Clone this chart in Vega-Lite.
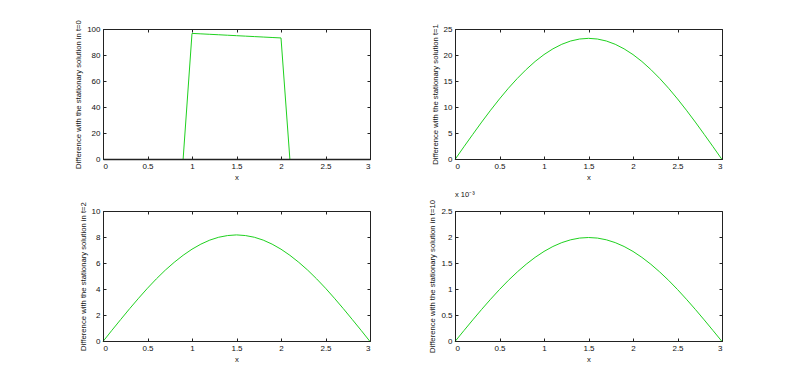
{
  "$schema": "https://vega.github.io/schema/vega-lite/v6.json",
  "background": "white",
  "padding": {"left": 74, "top": 19, "right": 10, "bottom": 5},
  "config": {
    "view": {"stroke": "#222", "strokeWidth": 1},
    "font": "Liberation Sans",
    "axis": {
      "grid": false,
      "zindex": 1,
      "domainColor": "#222",
      "tickColor": "#222",
      "tickSize": -3,
      "labelPadding": 6,
      "labelFont": "Liberation Sans",
      "labelFontSize": 8,
      "labelColor": "#111",
      "titleFont": "Liberation Sans",
      "titleFontSize": 7.7,
      "titleFontWeight": "normal",
      "titleColor": "#111"
    },
    "line": {"color": "#1fd11f", "strokeWidth": 1}
  },
  "datasets": {
    "d0": [
      {"x": 0, "y": 0}, {"x": 0.1, "y": 0}, {"x": 0.2, "y": 0}, {"x": 0.3, "y": 0}, {"x": 0.4, "y": 0},
      {"x": 0.5, "y": 0}, {"x": 0.6, "y": 0}, {"x": 0.7, "y": 0}, {"x": 0.8, "y": 0}, {"x": 0.9, "y": 0},
      {"x": 1.0, "y": 97.0}, {"x": 1.1, "y": 96.65}, {"x": 1.2, "y": 96.3}, {"x": 1.3, "y": 95.95}, {"x": 1.4, "y": 95.6},
      {"x": 1.5, "y": 95.25}, {"x": 1.6, "y": 94.9}, {"x": 1.7, "y": 94.55}, {"x": 1.8, "y": 94.2}, {"x": 1.9, "y": 93.85},
      {"x": 2.0, "y": 93.5}, {"x": 2.1, "y": 0}, {"x": 2.2, "y": 0}, {"x": 2.3, "y": 0}, {"x": 2.4, "y": 0},
      {"x": 2.5, "y": 0}, {"x": 2.6, "y": 0}, {"x": 2.7, "y": 0}, {"x": 2.8, "y": 0}, {"x": 2.9, "y": 0}, {"x": 3.0, "y": 0}
    ],
    "d1": [
      {"x": 0, "y": 0}, {"x": 0.1, "y": 2.44}, {"x": 0.2, "y": 4.84}, {"x": 0.3, "y": 7.2}, {"x": 0.4, "y": 9.48},
      {"x": 0.5, "y": 11.65}, {"x": 0.6, "y": 13.7}, {"x": 0.7, "y": 15.59}, {"x": 0.8, "y": 17.31}, {"x": 0.9, "y": 18.85},
      {"x": 1.0, "y": 20.18}, {"x": 1.1, "y": 21.28}, {"x": 1.2, "y": 22.16}, {"x": 1.3, "y": 22.79}, {"x": 1.4, "y": 23.17},
      {"x": 1.5, "y": 23.3}, {"x": 1.6, "y": 23.17}, {"x": 1.7, "y": 22.79}, {"x": 1.8, "y": 22.16}, {"x": 1.9, "y": 21.28},
      {"x": 2.0, "y": 20.18}, {"x": 2.1, "y": 18.85}, {"x": 2.2, "y": 17.31}, {"x": 2.3, "y": 15.59}, {"x": 2.4, "y": 13.7},
      {"x": 2.5, "y": 11.65}, {"x": 2.6, "y": 9.48}, {"x": 2.7, "y": 7.2}, {"x": 2.8, "y": 4.84}, {"x": 2.9, "y": 2.44}, {"x": 3.0, "y": 0}
    ],
    "d2": [
      {"x": 0, "y": 0}, {"x": 0.1, "y": 0.86}, {"x": 0.2, "y": 1.7}, {"x": 0.3, "y": 2.53}, {"x": 0.4, "y": 3.33},
      {"x": 0.5, "y": 4.1}, {"x": 0.6, "y": 4.82}, {"x": 0.7, "y": 5.49}, {"x": 0.8, "y": 6.09}, {"x": 0.9, "y": 6.63},
      {"x": 1.0, "y": 7.1}, {"x": 1.1, "y": 7.49}, {"x": 1.2, "y": 7.8}, {"x": 1.3, "y": 8.02}, {"x": 1.4, "y": 8.15},
      {"x": 1.5, "y": 8.2}, {"x": 1.6, "y": 8.15}, {"x": 1.7, "y": 8.02}, {"x": 1.8, "y": 7.8}, {"x": 1.9, "y": 7.49},
      {"x": 2.0, "y": 7.1}, {"x": 2.1, "y": 6.63}, {"x": 2.2, "y": 6.09}, {"x": 2.3, "y": 5.49}, {"x": 2.4, "y": 4.82},
      {"x": 2.5, "y": 4.1}, {"x": 2.6, "y": 3.33}, {"x": 2.7, "y": 2.53}, {"x": 2.8, "y": 1.7}, {"x": 2.9, "y": 0.86}, {"x": 3.0, "y": 0}
    ],
    "d10": [
      {"x": 0, "y": 0}, {"x": 0.1, "y": 0.000209}, {"x": 0.2, "y": 0.000416}, {"x": 0.3, "y": 0.000618}, {"x": 0.4, "y": 0.000813},
      {"x": 0.5, "y": 0.001}, {"x": 0.6, "y": 0.001176}, {"x": 0.7, "y": 0.001338}, {"x": 0.8, "y": 0.001486}, {"x": 0.9, "y": 0.001618},
      {"x": 1.0, "y": 0.001732}, {"x": 1.1, "y": 0.001827}, {"x": 1.2, "y": 0.001902}, {"x": 1.3, "y": 0.001956}, {"x": 1.4, "y": 0.001989},
      {"x": 1.5, "y": 0.002}, {"x": 1.6, "y": 0.001989}, {"x": 1.7, "y": 0.001956}, {"x": 1.8, "y": 0.001902}, {"x": 1.9, "y": 0.001827},
      {"x": 2.0, "y": 0.001732}, {"x": 2.1, "y": 0.001618}, {"x": 2.2, "y": 0.001486}, {"x": 2.3, "y": 0.001338}, {"x": 2.4, "y": 0.001176},
      {"x": 2.5, "y": 0.001}, {"x": 2.6, "y": 0.000813}, {"x": 2.7, "y": 0.000618}, {"x": 2.8, "y": 0.000416}, {"x": 2.9, "y": 0.000209}, {"x": 3.0, "y": 0}
    ]
  },
  "columns": 2,
  "spacing": {"row": 52, "column": 85},
  "bounds": "flush",
  "concat": [
    {
      "width": 267, "height": 130,
      "data": {"name": "d0"},
      "layer": [
        {
          "mark": {"type": "line", "yOffset": 0.5},
          "encoding": {
            "x": {"field": "x", "type": "quantitative", "scale": {"domain": [0, 3], "nice": false}, "axis": {"orient": "bottom", "zindex": 2, "domainWidth": 1.4, "values": [0, 0.5, 1, 1.5, 2, 2.5, 3], "format": "~r", "title": "x", "titlePadding": 3}},
            "y": {"field": "y", "type": "quantitative", "scale": {"domain": [0, 100], "nice": false}, "axis": {"orient": "left", "zindex": 2, "values": [0, 20, 40, 60, 80, 100], "format": "~r", "title": "Difference with the stationary solution in t=0", "titlePadding": 4}}
          }
        },
        {
          "mark": {"type": "line", "strokeOpacity": 0},
          "encoding": {
            "x": {"field": "x", "type": "quantitative", "axis": {"orient": "top", "values": [0, 0.5, 1, 1.5, 2, 2.5, 3], "labels": false, "title": null, "domain": false}},
            "y": {"field": "y", "type": "quantitative", "axis": {"orient": "right", "values": [0, 20, 40, 60, 80, 100], "labels": false, "title": null, "domain": false}}
          }
        }
      ],
      "resolve": {"axis": {"x": "independent", "y": "independent"}}
    },
    {
      "width": 267, "height": 130,
      "data": {"name": "d1"},
      "layer": [
        {
          "mark": {"type": "line", "yOffset": 0.5},
          "encoding": {
            "x": {"field": "x", "type": "quantitative", "scale": {"domain": [0, 3], "nice": false}, "axis": {"orient": "bottom", "zindex": 2, "values": [0, 0.5, 1, 1.5, 2, 2.5, 3], "format": "~r", "title": "x", "titlePadding": 3}},
            "y": {"field": "y", "type": "quantitative", "scale": {"domain": [0, 25], "nice": false}, "axis": {"orient": "left", "zindex": 2, "values": [0, 5, 10, 15, 20, 25], "format": "~r", "title": "Difference with the stationary solution t=1", "titlePadding": 4}}
          }
        },
        {
          "mark": {"type": "line", "strokeOpacity": 0},
          "encoding": {
            "x": {"field": "x", "type": "quantitative", "axis": {"orient": "top", "values": [0, 0.5, 1, 1.5, 2, 2.5, 3], "labels": false, "title": null, "domain": false}},
            "y": {"field": "y", "type": "quantitative", "axis": {"orient": "right", "values": [0, 5, 10, 15, 20, 25], "labels": false, "title": null, "domain": false}}
          }
        }
      ],
      "resolve": {"axis": {"x": "independent", "y": "independent"}}
    },
    {
      "width": 267, "height": 130,
      "data": {"name": "d2"},
      "layer": [
        {
          "mark": {"type": "line", "yOffset": 0.5},
          "encoding": {
            "x": {"field": "x", "type": "quantitative", "scale": {"domain": [0, 3], "nice": false}, "axis": {"orient": "bottom", "zindex": 2, "values": [0, 0.5, 1, 1.5, 2, 2.5, 3], "format": "~r", "title": "x", "titlePadding": 3}},
            "y": {"field": "y", "type": "quantitative", "scale": {"domain": [0, 10], "nice": false}, "axis": {"orient": "left", "zindex": 2, "values": [0, 2, 4, 6, 8, 10], "format": "~r", "title": "Difference with the stationary solution in t=2", "titlePadding": 4}}
          }
        },
        {
          "mark": {"type": "line", "strokeOpacity": 0},
          "encoding": {
            "x": {"field": "x", "type": "quantitative", "axis": {"orient": "top", "values": [0, 0.5, 1, 1.5, 2, 2.5, 3], "labels": false, "title": null, "domain": false}},
            "y": {"field": "y", "type": "quantitative", "axis": {"orient": "right", "values": [0, 2, 4, 6, 8, 10], "labels": false, "title": null, "domain": false}}
          }
        }
      ],
      "resolve": {"axis": {"x": "independent", "y": "independent"}}
    },
    {
      "width": 267, "height": 130,
      "data": {"name": "d10"},
      "title": {"text": "x 10⁻³", "anchor": "start", "frame": "group", "fontSize": 7.5, "fontWeight": "normal", "font": "Liberation Sans", "color": "#111", "offset": 1},
      "layer": [
        {
          "mark": {"type": "line", "yOffset": 0.5},
          "encoding": {
            "x": {"field": "x", "type": "quantitative", "scale": {"domain": [0, 3], "nice": false}, "axis": {"orient": "bottom", "zindex": 2, "values": [0, 0.5, 1, 1.5, 2, 2.5, 3], "format": "~r", "title": "x", "titlePadding": 3}},
            "y": {"field": "y", "type": "quantitative", "scale": {"domain": [0, 0.0025], "nice": false}, "axis": {"orient": "left", "zindex": 2, "values": [0, 0.0005, 0.001, 0.0015, 0.002, 0.0025], "labelExpr": "format(datum.value * 1000, '.1~f')", "title": "Difference with the stationary solution in t=10", "titlePadding": 4}}
          }
        },
        {
          "mark": {"type": "line", "strokeOpacity": 0},
          "encoding": {
            "x": {"field": "x", "type": "quantitative", "axis": {"orient": "top", "values": [0, 0.5, 1, 1.5, 2, 2.5, 3], "labels": false, "title": null, "domain": false}},
            "y": {"field": "y", "type": "quantitative", "axis": {"orient": "right", "values": [0, 0.0005, 0.001, 0.0015, 0.002, 0.0025], "labels": false, "title": null, "domain": false}}
          }
        }
      ],
      "resolve": {"axis": {"x": "independent", "y": "independent"}}
    }
  ]
}
